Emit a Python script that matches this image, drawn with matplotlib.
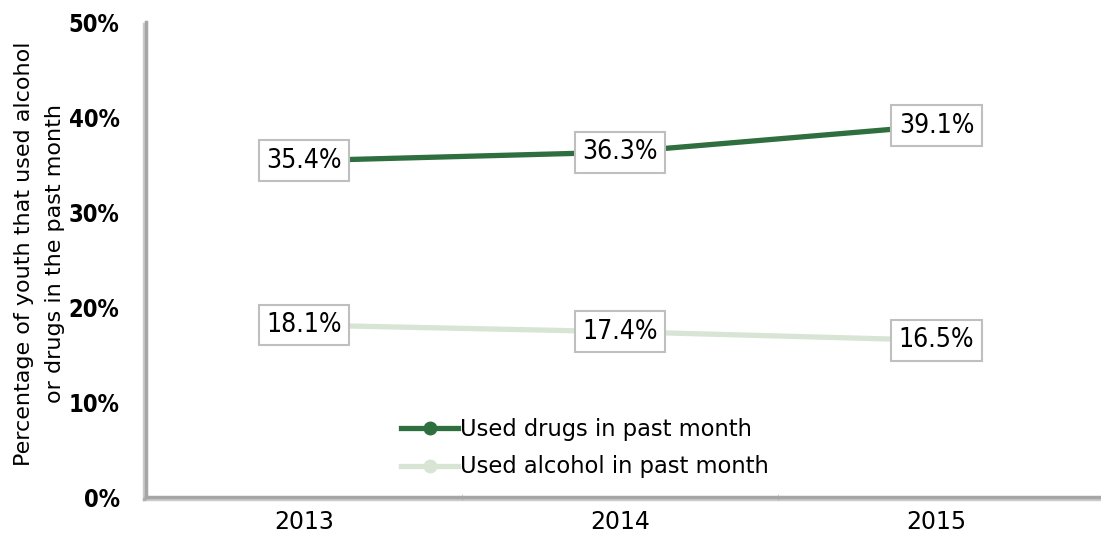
import matplotlib
matplotlib.use("Agg")
import matplotlib.pyplot as plt
import matplotlib.patheffects as pe
from matplotlib.ticker import FixedLocator

years = ["2013", "2014", "2015"]
drugs = [35.4, 36.3, 39.1]
alcohol = [18.1, 17.4, 16.5]
y_ticks = [0, 10, 20, 30, 40, 50]

dark_green = "#2F6E3E"
light_green = "#D8E5D4"

plt.rcParams["font.family"] = ["DejaVu Sans"]

fig = plt.figure(figsize=(11.01, 5.46), dpi=100)
ax = fig.add_axes([0.1326, 0.0897, 0.8674, 0.87])

x = list(range(len(years)))
ax.plot(x, drugs, color=dark_green, lw=3.8, marker="o", ms=9,
        label="Used drugs in past month", zorder=2)
ax.plot(x, alcohol, color=light_green, lw=3.8, marker="o", ms=9,
        label="Used alcohol in past month", zorder=2)

# value boxes sit on top of each point
for series in (drugs, alcohol):
    for xi, v in zip(x, series):
        ax.text(xi, v, f"{v:.1f}%", ha="center", va="center", fontsize=19,
                fontstretch="condensed", zorder=3,
                bbox=dict(boxstyle="square,pad=0.28", fc="white",
                          ec="#BFBFBF", lw=1.5))

ax.set_xlim(-0.5, 2.52)
ax.set_ylim(0, 50)
ax.set_xticks(x)
ax.set_xticklabels(years, fontsize=17)
ax.tick_params(axis="x", length=0, pad=9)
ax.xaxis.set_minor_locator(FixedLocator([0.5, 1.5]))
ax.tick_params(axis="x", which="minor", length=4, color="#C8C8C8",
               direction="inout")

ax.set_yticks(y_ticks)
ax.set_yticklabels([f"{t}%" for t in y_ticks], fontsize=17,
                   fontweight="bold", fontstretch="condensed")
ax.tick_params(axis="y", length=0, pad=19)

fig.text(0.036, 0.535,
         "Percentage of youth that used alcohol\nor drugs in the past month",
         rotation=90, ha="center", va="center", fontsize=16,
         linespacing=1.66, multialignment="center")

for side in ("top", "right"):
    ax.spines[side].set_visible(False)
for side in ("left", "bottom"):
    sp = ax.spines[side]
    sp.set_color("#A6A6A6")
    sp.set_linewidth(2.5)
    sp.set_path_effects([pe.SimpleLineShadow(offset=(-1.5, -1.5),
                                             shadow_color="#999999",
                                             alpha=0.5),
                         pe.Normal()])

leg = ax.legend(loc="lower left", bbox_to_anchor=(0.258, 0.02), frameon=False,
                fontsize=16.3, handlelength=2.5, handletextpad=0.1,
                labelspacing=0.66, borderaxespad=0)

fig.savefig("out.png", dpi=100, facecolor="white")
